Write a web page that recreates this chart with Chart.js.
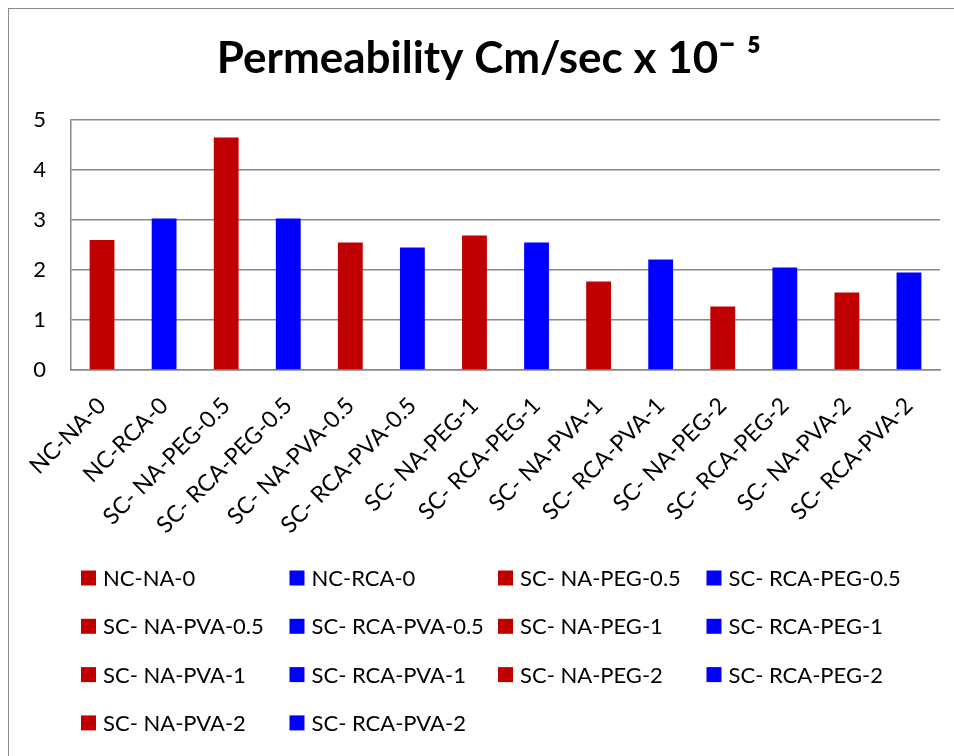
<!DOCTYPE html>
<html>
<head>
<meta charset="utf-8">
<script src="https://cdn.jsdelivr.net/npm/chart.js@4/dist/chart.umd.min.js"></script>
<style>
  html, body { margin: 0; padding: 0; background: #fff; }
  #wrap { position: relative; width: 954px; height: 756px; overflow: hidden; }
  #frame { position: absolute; left: 8px; top: 8px; width: 1000px; height: 1000px;
           border-left: 1.5px solid #8a8a8a; border-top: 1.5px solid #8a8a8a; pointer-events: none; }
  canvas { position: absolute; left: 0; top: 0; }
</style>
</head>
<body>
<div id="wrap">
  <canvas id="c" width="954" height="756"></canvas>
  <div id="frame"></div>
</div>
<script>
const titleText = 'Permeability Cm/sec x 10\u00AF \u2075';
const categories = [
  'NC-NA-0', 'NC-RCA-0', 'SC- NA-PEG-0.5', 'SC- RCA-PEG-0.5',
  'SC- NA-PVA-0.5', 'SC- RCA-PVA-0.5', 'SC- NA-PEG-1', 'SC- RCA-PEG-1',
  'SC- NA-PVA-1', 'SC- RCA-PVA-1', 'SC- NA-PEG-2', 'SC- RCA-PEG-2',
  'SC- NA-PVA-2', 'SC- RCA-PVA-2'
];
const permeability = [2.6, 3.03, 4.65, 3.03, 2.55, 2.45, 2.69, 2.55, 1.77, 2.21, 1.27, 2.05, 1.55, 1.95];
const yTicks = [0, 1, 2, 3, 4, 5];

const RED = '#C00000';
const BLUE = '#0000FF';
const barColors = categories.map(c => c.indexOf('RCA') >= 0 ? BLUE : RED);

const FONT = 'Lato, Carlito, "Open Sans", sans-serif';

const titleAndLegend = {
  id: 'titleAndLegend',
  afterDraw(chart) {
    const ctx = chart.ctx;
    ctx.save();
    // title
    ctx.font = 'bold 44px ' + FONT;
    ctx.fillStyle = '#000';
    ctx.textAlign = 'center';
    ctx.textBaseline = 'middle';
    ctx.fillText(titleText, 489, 59);
    // legend
    ctx.font = '22px ' + FONT;
    ctx.textAlign = 'left';
    const x0 = 81, colW = 208.5, y0 = 578, rowH = 48.3, box = 15;
    categories.forEach((name, i) => {
      const col = i % 4, row = Math.floor(i / 4);
      const x = x0 + col * colW, y = y0 + row * rowH;
      ctx.fillStyle = barColors[i];
      ctx.fillRect(x, y - box / 2, box, box);
      ctx.fillStyle = '#000';
      ctx.fillText(name, x + box + 7, y + 1);
    });
    ctx.restore();
  }
};

new Chart(document.getElementById('c'), {
  type: 'bar',
  data: {
    labels: categories,
    datasets: [{
      label: 'Permeability',
      data: permeability,
      backgroundColor: barColors,
      borderWidth: 0,
      barPercentage: 0.4,
      categoryPercentage: 1.0
    }]
  },
  options: {
    responsive: false,
    animation: false,
    layout: { padding: { left: 0, right: 14, top: 120, bottom: 0 } },
    plugins: {
      legend: { display: false },
      tooltip: { enabled: false },
      title: { display: false }
    },
    scales: {
      x: {
        grid: { display: false, drawTicks: false },
        border: { display: true, color: '#888', width: 1.5 },
        ticks: {
          autoSkip: false,
          minRotation: 45,
          maxRotation: 45,
          color: '#000',
          padding: 22,
          font: { family: FONT, size: 23 }
        },
        afterFit(scale) { scale.height = 386; }
      },
      y: {
        min: 0,
        max: 5,
        afterBuildTicks(scale) { scale.ticks = yTicks.map(v => ({ value: v })); },
        grid: { color: '#888', lineWidth: 1.5, drawTicks: false },
        border: { display: true, color: '#888', width: 1.5 },
        ticks: {
          color: '#000',
          padding: 25,
          font: { family: FONT, size: 22 }
        },
        afterFit(scale) { scale.width = 71; }
      }
    }
  },
  plugins: [titleAndLegend]
});
</script>
</body>
</html>
